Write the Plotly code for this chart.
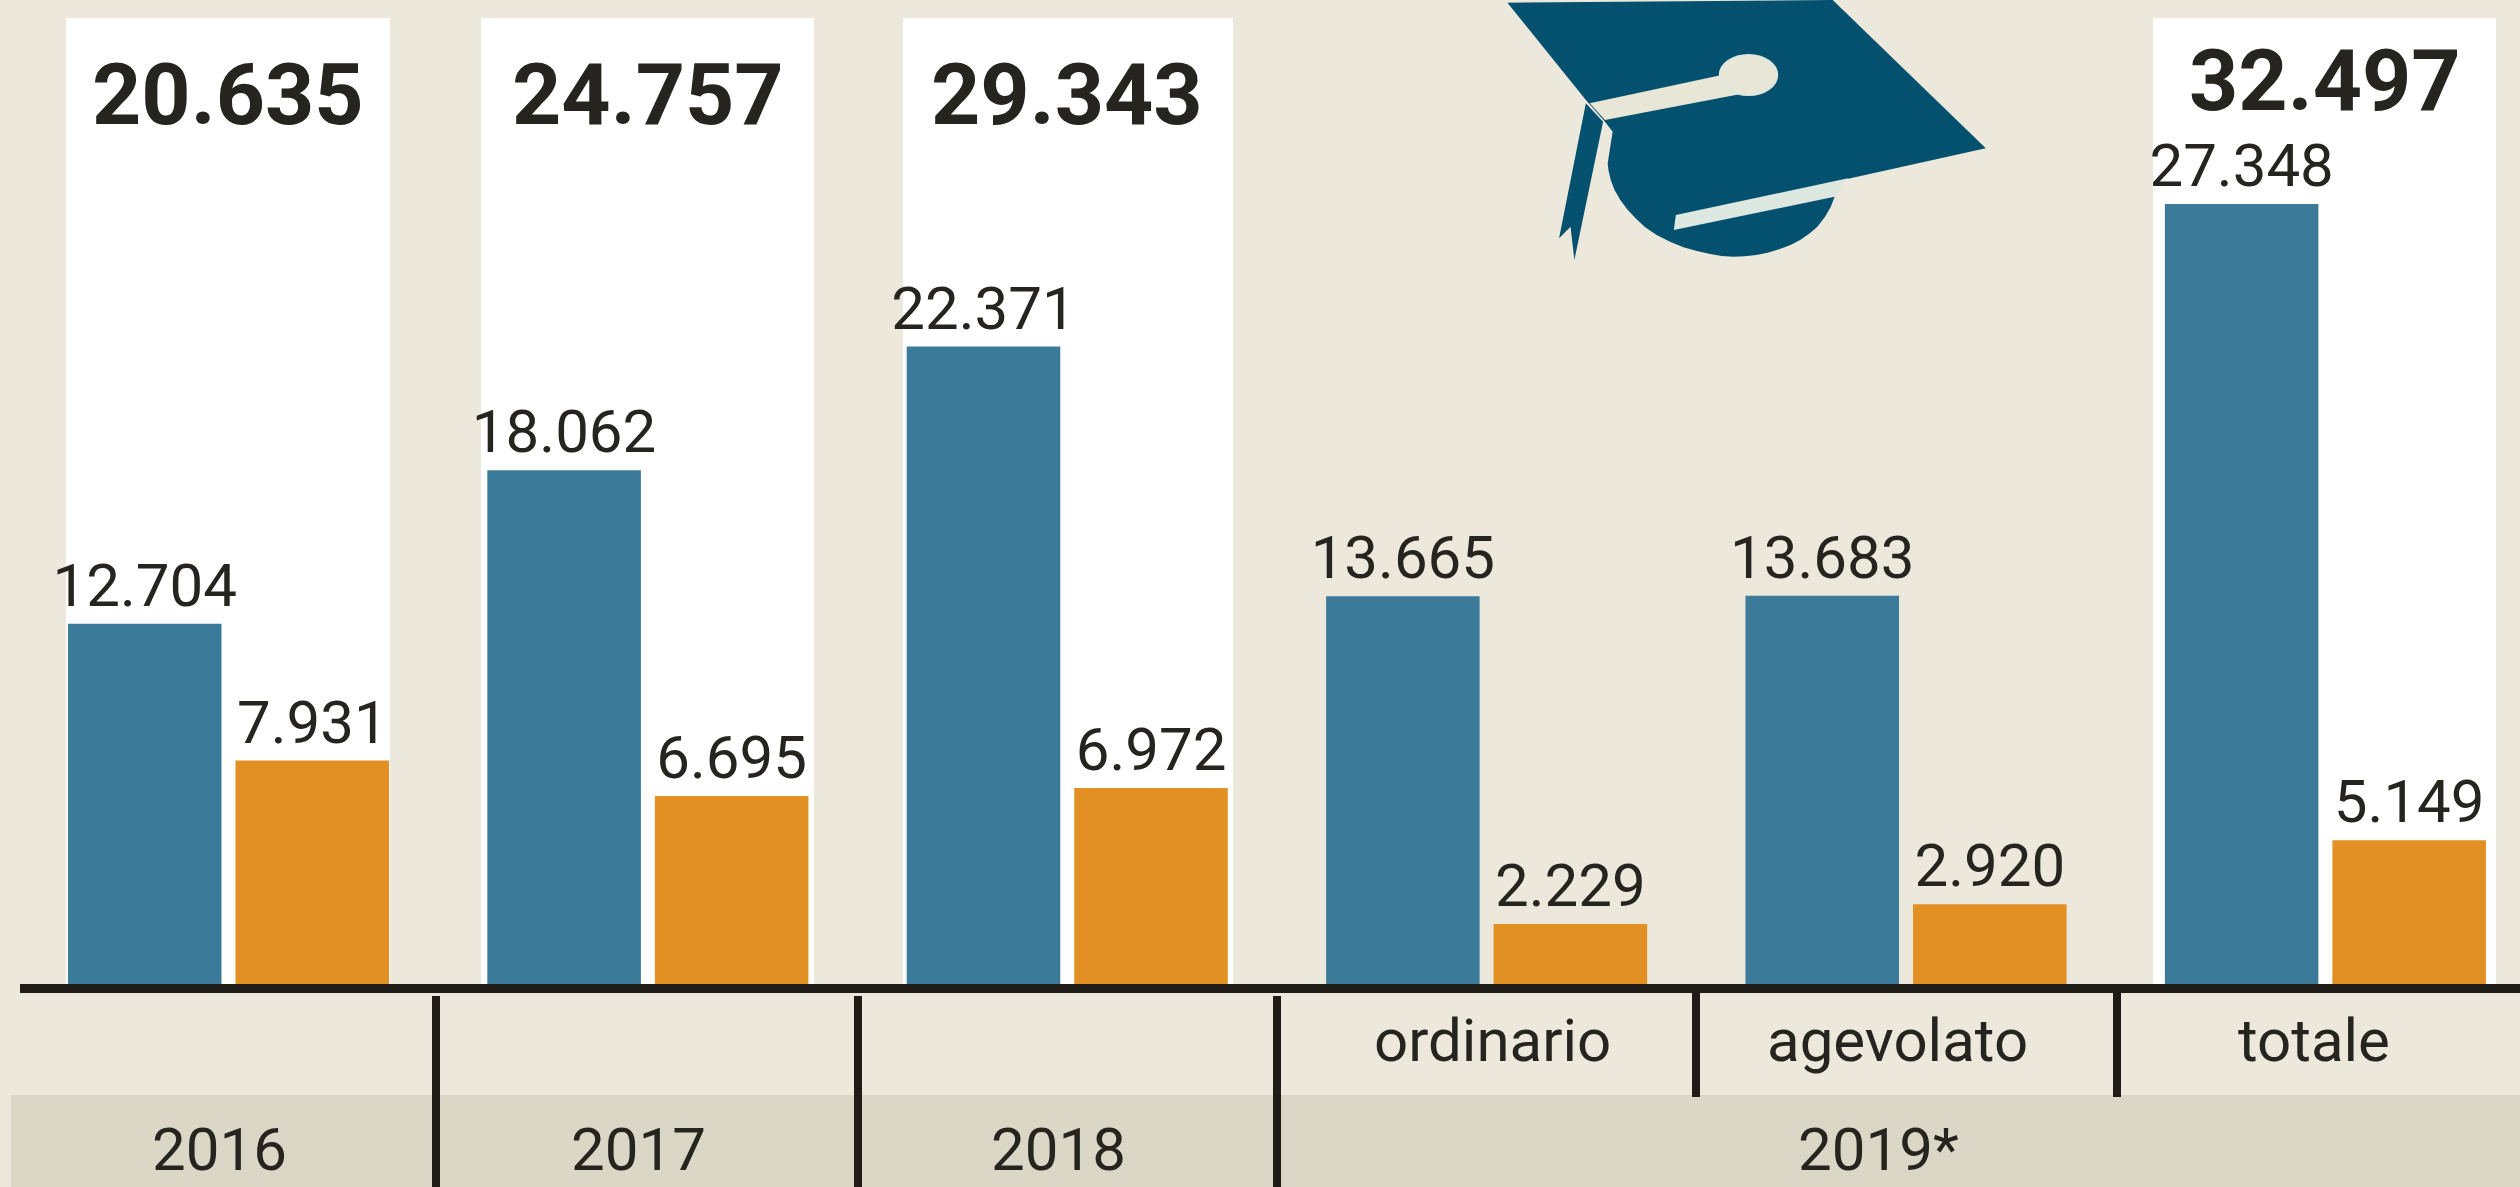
import plotly.graph_objects as go

W, H = 2520, 1187

groups = ["2016", "2017", "2018", "ordinario", "agevolato", "totale"]
blue_values = [12704, 18062, 22371, 13665, 13683, 27348]
orange_values = [7931, 6695, 6972, 2229, 2920, 5149]
totals = {"2016": 20635, "2017": 24757, "2018": 29343, "totale": 32497}
year_labels = ["2016", "2017", "2018"]
sub_labels = ["ordinario", "agevolato", "totale"]
last_year_label = "2019*"

BG = "#ECE9DC"
BAND = "#DBD7C6"
BLUE = "#3B7A99"
ORANGE = "#E29024"
CAP = "#03506F"
INK = "#26241F"
FONT = "Roboto"


def fmt(v):
    return f"{v:,}".replace(",", ".")


def px(x):
    return x / W


def py(y):
    return 1 - y / H


def rect(x0, y0, x1, y1, color, layer="above"):
    return dict(type="rect", xref="paper", yref="paper", x0=px(x0), x1=px(x1),
                y0=py(y1), y1=py(y0), fillcolor=color, line_width=0, layer=layer)


def zoom_poly(points, color):
    # outline of the cap icon
    pts = [(1450 + a / 2.613, b / 3) for a, b in points]
    d = "M" + " L".join(f"{px(a):.5f},{py(b):.5f}" for a, b in pts) + " Z"
    return dict(type="path", xref="paper", yref="paper", path=d, fillcolor=color,
                line_width=0, layer="above")


fig = go.Figure()
fig.add_bar(x=list(range(6)), y=blue_values, marker=dict(color=BLUE, line_width=0),
            text=[fmt(v) for v in blue_values], textposition="outside", constraintext="none",
            textfont=dict(family=FONT, size=60, color=INK), cliponaxis=False)
fig.add_bar(x=list(range(6)), y=orange_values, marker=dict(color=ORANGE, line_width=0),
            text=[fmt(v) for v in orange_values], textposition="outside", constraintext="none",
            textfont=dict(family=FONT, size=60, color=INK), cliponaxis=False)

shapes = [
    rect(66, 18, 390, 988, "white", "below"),
    rect(481, 18, 814, 988, "white", "below"),
    rect(903, 18, 1233, 988, "white", "below"),
    rect(2153, 18, 2496, 988, "white", "below"),
    rect(11, 1095, W, H, BAND, "below"),
    rect(20, 984, W, 993, "#1F1B16"),
]
for x in (436, 858, 1277):
    shapes.append(rect(x - 4, 996, x + 4, H, "#1F1B16"))
for x in (1696, 2117):
    shapes.append(rect(x - 4, 990, x + 4, 1097, "#1F1B16"))

skull = [(150, 8), (1000, 0), (1400, 445), (1005, 545), (1005, 590), (995, 620), (980, 650), (960, 680),
         (940, 700), (915, 720), (890, 735), (860, 748), (830, 758), (800, 765), (770, 769), (740, 770),
         (710, 768), (680, 762), (645, 753), (610, 742), (575, 725), (540, 705), (510, 682),
         (485, 655), (463, 628), (445, 600), (430, 570), (420, 540), (414, 510), (412, 490),
         (425, 395), (405, 365), (355, 300)]
shapes.append(zoom_poly(skull, CAP))
shapes.append(zoom_poly([(590, 645), (1040, 535), (1005, 590), (585, 690)], "#DDE8E0"))
shapes.append(zoom_poly([(365, 310), (710, 225), (770, 280), (405, 360)], "#E8E6D6"))
shapes.append(zoom_poly([(355, 310), (400, 365), (325, 780), (315, 680), (285, 715)], CAP))
shapes.append(dict(type="circle", xref="paper", yref="paper",
                   x0=px(1450 + 705 / 2.613), x1=px(1450 + 855 / 2.613),
                   y0=py(285 / 3), y1=py(165 / 3),
                   fillcolor="#E8E6D6", line=dict(color="#DDE8E0", width=2)))

annotations = []
total_y = {"2016": 94, "2017": 94, "2018": 94, "totale": 80}
for name, value in totals.items():
    annotations.append(dict(x=groups.index(name), y=py(total_y[name]), xref="x", yref="paper",
                            text=f"<b>{fmt(value)}</b>", showarrow=False, yanchor="middle",
                            font=dict(family=FONT, size=86, color=INK)))
for i, label in enumerate(year_labels):
    annotations.append(dict(x=i, y=py(1149), xref="x", yref="paper", text=label, showarrow=False,
                            yanchor="middle", xshift=-9,
                            font=dict(family=FONT, size=60, color=INK)))
for label in sub_labels:
    annotations.append(dict(x=groups.index(label), y=py(1040), xref="x", yref="paper", text=label,
                            showarrow=False, yanchor="middle",
                            xshift={"ordinario": 6, "agevolato": -9, "totale": -11}[label],
                            font=dict(family=FONT, size=60, color=INK)))
annotations.append(dict(x=sum(groups.index(s) for s in sub_labels) / 3, y=py(1149), xref="x", yref="paper",
                        text=last_year_label, showarrow=False, yanchor="middle", xshift=-28,
                        font=dict(family=FONT, size=60, color=INK)))

fig.update_layout(
    width=W, height=H, margin=dict(l=0, r=0, t=0, b=0),
    paper_bgcolor=BG, plot_bgcolor="rgba(0,0,0,0)",
    barmode="group", bargap=0.201, bargroupgap=0.0836, showlegend=False,
    xaxis=dict(range=[-0.5448, 5.464], visible=False),
    yaxis=dict(range=[-6941, 34460], visible=False),
    shapes=shapes, annotations=annotations,
)
fig.write_html("out.html", config={"displayModeBar": False},
               post_script="document.body.style.margin='0';document.body.style.overflow='hidden';")
